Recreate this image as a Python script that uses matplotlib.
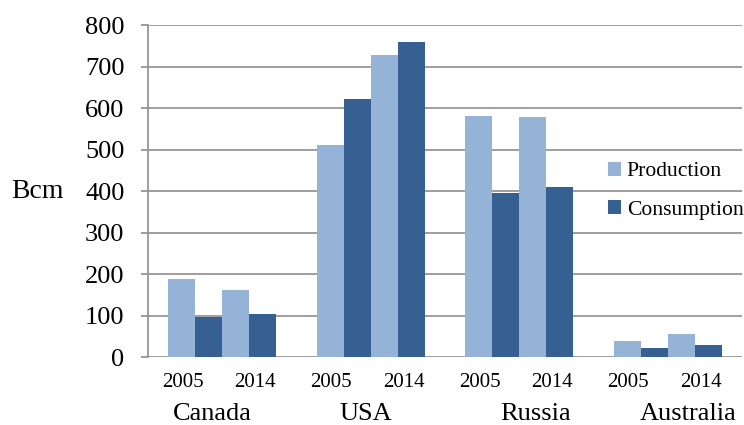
import numpy as np
import matplotlib
matplotlib.use("Agg")
import matplotlib.pyplot as plt

countries = ["Canada", "USA", "Russia", "Australia"]
years = ["2005", "2014"]
# values per country: [2005, 2014]
production = [[188, 162], [511, 728], [581, 578], [38, 56]]
consumption = [[97, 104], [623, 759], [395, 409], [22, 30]]

light = "#95B3D7"
dark = "#376092"
grid_c = "#969696"

plt.rcParams["font.family"] = ["Liberation Serif", "DejaVu Serif"]

fig = plt.figure(figsize=(7.44, 4.25), dpi=100)
ax = fig.add_axes([0.199, 0.16, 0.798, 0.781])

w = 0.182
x = np.arange(len(countries))
prod = np.array(production)
cons = np.array(consumption)

# 2005 pair, then 2014 pair
ax.bar(x - 1.5 * w, prod[:, 0], w, color=light, label="Production", zorder=3)
ax.bar(x - 0.5 * w, cons[:, 0], w, color=dark, label="Consumption", zorder=3)
ax.bar(x + 0.5 * w, prod[:, 1], w, color=light, zorder=3)
ax.bar(x + 1.5 * w, cons[:, 1], w, color=dark, zorder=3)

ax.set_xlim(-0.5, len(countries) - 0.5)
ax.set_ylim(0, 800)
ax.set_yticks(np.arange(0, 801, 100))
ax.yaxis.grid(True, color=grid_c, linewidth=1.3, zorder=0)
ax.set_xticks([])
ax.tick_params(axis="y", length=5, width=1.3, color=grid_c, pad=12, labelsize=19)

for s in ["top", "right", "bottom"]:
    ax.spines[s].set_visible(False)
ax.spines["left"].set_color(grid_c)
ax.spines["left"].set_linewidth(1.3)

# multi-level category labels under the axis
tr = ax.get_xaxis_transform()
year_shift = [-0.085, 0.04]
country_shift = [-0.067, -0.03, 0.108, 0.14]
for i, c in enumerate(countries):
    ax.text(i - w + year_shift[0], -0.078, years[0], transform=tr,
            ha="center", va="center", fontsize=15)
    ax.text(i + w + year_shift[1], -0.078, years[1], transform=tr,
            ha="center", va="center", fontsize=15)
    ax.text(i + country_shift[i], -0.172, c, transform=tr,
            ha="center", va="center", fontsize=19)

fig.text(0.051, 0.55, "Bcm", ha="center", va="center", fontsize=20)

ax.legend(loc="upper left", bbox_to_anchor=(0.817, 0.62), bbox_transform=fig.transFigure,
          frameon=False, fontsize=15.6, handlelength=0.62, handleheight=0.62,
          handletextpad=0.25, labelspacing=0.88, borderaxespad=0, borderpad=0)

fig.savefig("out.png", dpi=100)
